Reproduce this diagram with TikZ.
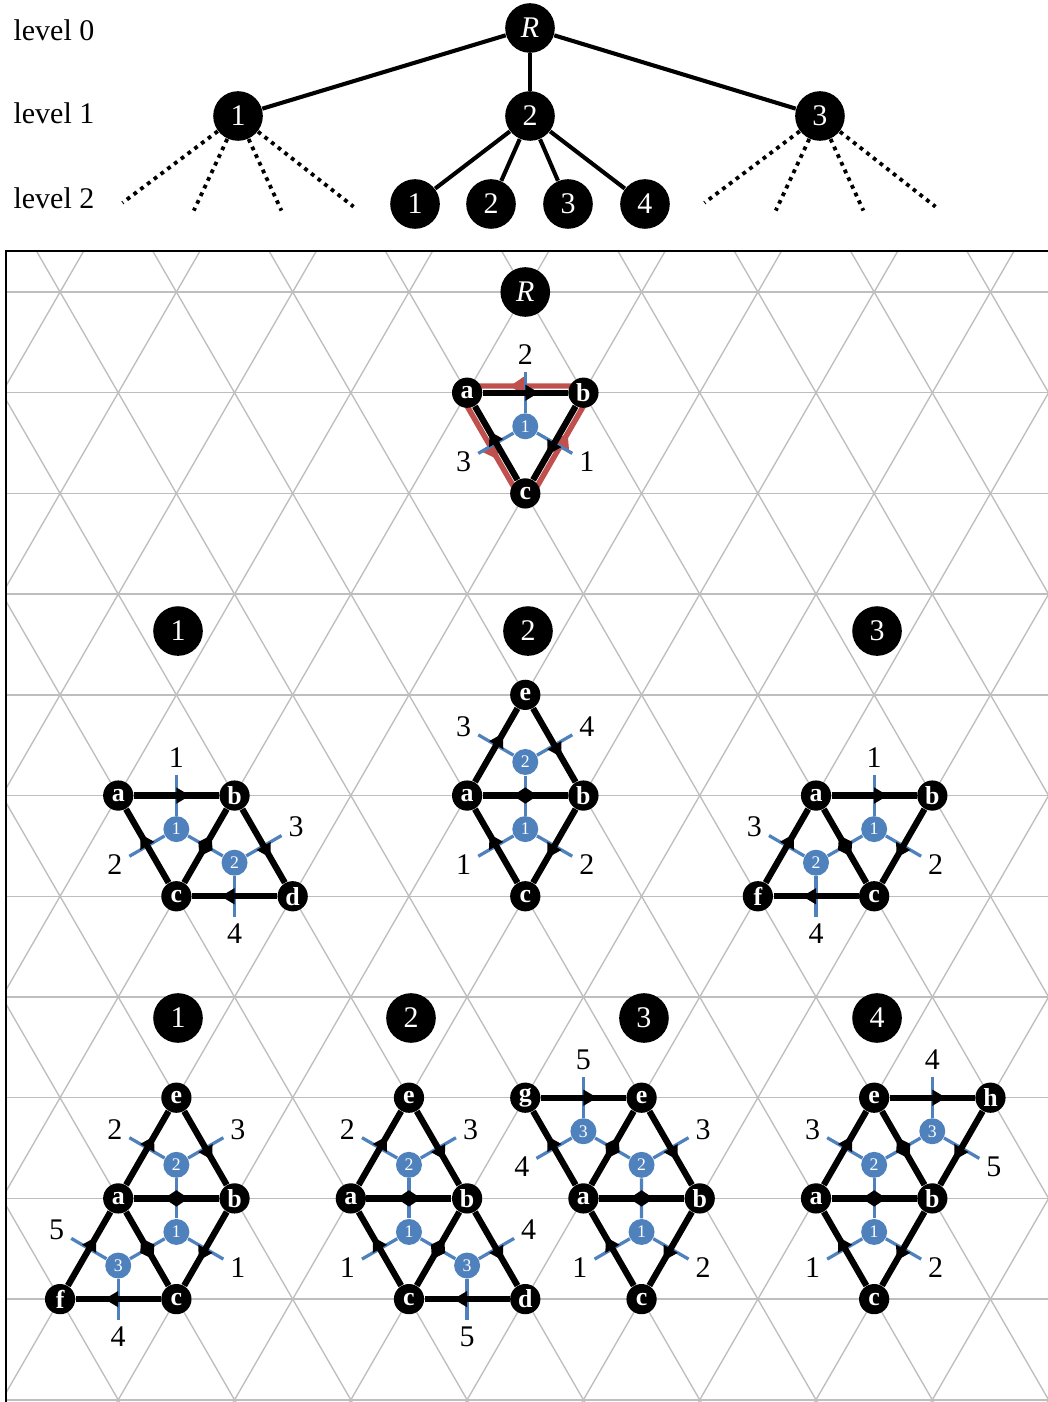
\documentclass[tikz,border=0pt]{standalone}
\usepackage{fontspec}
\setmainfont{Liberation Serif}
\usetikzlibrary{calc,decorations.markings}

\definecolor{dualblue}{RGB}{79,129,189}
\definecolor{cutred}{RGB}{192,80,77}
\definecolor{gridgray}{RGB}{190,190,190}

\tikzset{
  lvl/.style={anchor=west, inner sep=0pt, font=\fontsize{11}{13}\selectfont},
  tnode/.style={circle, fill=black, text=white, minimum size=0.64cm, inner sep=0pt,
                font=\fontsize{11}{13}\selectfont},
  vtx/.style={circle, fill=black, text=white, minimum size=0.39cm, inner sep=0pt,
              font=\fontsize{9.5}{11}\selectfont\bfseries},
  face/.style={circle, fill=dualblue, text=white, minimum size=0.335cm, inner sep=0pt,
               font=\fontsize{6.5}{7}\selectfont},
  elbl/.style={inner sep=2pt, text=black, font=\fontsize{11}{13}\selectfont},
  tedge/.style={line width=1.5pt},
  tdots/.style={line width=1.4pt, dash pattern=on 1.4pt off 1.7pt},
  gridline/.style={gridgray, line width=0.5pt},
  dual/.style={dualblue, line width=1.2pt},
  arr/.style={line width=2.3pt, postaction={decorate},
    decoration={markings, mark=at position 0.5 with {\fill (0,3pt) -- (5pt,0) -- (0,-3pt) -- cycle;}}},
  dia/.style={line width=2.3pt, postaction={decorate},
    decoration={markings, mark=at position 0.5 with {\fill (-4.5pt,0) -- (0,3pt) -- (4.5pt,0) -- (0,-3pt) -- cycle;}}},
  cut/.style={cutred, line width=2pt, line join=bevel, postaction={decorate},
    decoration={markings, mark=between positions 0.1667 and 0.9 step 0.3333 with {\fill (0,3.8pt) -- (5.5pt,0) -- (0,-3.8pt) -- cycle;}}},
  lattice/.style={shift={(0.775cm,-3.766cm)}, x={(1.5cm,0cm)}, y={(0.75cm,-1.299cm)}},
}

% blue half-edge sticking out of a face: face, angle, label
\newcommand\stub[3]{%
  \pgfmathtruncatemacro\stubanc{mod(#2+180,360)}%
  \draw[dual] (#1) -- ++(#2:0.7cm) coordinate (#1-#2) node[elbl, anchor=\stubanc] (#1-#2-l) {#3};
}

\begin{document}
\begin{tikzpicture}
\useasboundingbox (0,0) rectangle (13.517,-18.083);

% the tree
\node[lvl] (lv0) at (0.168,-0.387) {level 0};
\node[lvl] (lv1) at (0.168,-1.457) {level 1};
\node[lvl] (lv2) at (0.168,-2.554) {level 2};

\node[tnode] (R) at (6.836,-0.361) {\textit{R}};
\node[tnode] (n1) at (3.070,-1.496) {1};
\node[tnode] (n2) at (6.836,-1.496) {2};
\node[tnode] (n3) at (10.576,-1.496) {3};
\foreach \k/\x in {1/5.353,2/6.333,3/7.326,4/8.319}
  \node[tnode] (m\k) at (\x,-2.631) {\k};

\foreach \n in {n1,n2,n3} \draw[tedge] (R) -- (\n);
\foreach \k in {1,...,4} \draw[tedge] (n2) -- (m\k);
\foreach \n in {n1,n3}
  \foreach \dx/\dy [count=\k] in {-1.49/-1.12,-0.57/-1.22,0.56/-1.22,1.49/-1.17}
    \draw[tdots] (\n) -- ++(\dx,\dy) coordinate (\n-\k);

% triangular grid in the box
\begin{scope}
  \clip (0.09,-3.25) rectangle (13.6,-18.2);
  \begin{scope}[lattice]
    \foreach \j in {-1,...,12} \draw[gridline] (-12,\j) -- (16,\j);
    \foreach \i in {-12,...,16} \draw[gridline] (\i,-1) -- (\i,12);
    \foreach \k in {-9,...,22} \draw[gridline] (\k+1,-1) -- (\k-12,12);
  \end{scope}
\end{scope}
\draw[line width=0.8pt] (0.077,-3.237) rectangle (14,-18.5);

% headers
\node[tnode] (h1) at (2.296,-8.139) {1};
\node[tnode] (h2) at (6.810,-8.139) {2};
\node[tnode] (h3) at (11.312,-8.139) {3};
\node[tnode] (h21) at (2.296,-13.130) {1};
\node[tnode] (h22) at (5.301,-13.130) {2};
\node[tnode] (h23) at (8.306,-13.130) {3};
\node[tnode] (h24) at (11.312,-13.130) {4};

\begin{scope}[lattice]
\node[tnode] (hR) at (4,0) {\textit{R}};

% root: one face, cut in red
\draw[cut] (2.9333,2.1333) -- (4.1333,0.9333) -- (2.9333,0.9333) -- cycle;
\node[vtx] (r0a) at (3,1) {a};
\node[vtx] (r0b) at (4,1) {b};
\node[vtx] (r0c) at (3,2) {c};
\node[face] (r0F1) at (barycentric cs:r0a=1,r0b=1,r0c=1) {1};
\stub{r0F1}{90}{2} \stub{r0F1}{330}{1} \stub{r0F1}{210}{3}
\draw[arr] (r0a) -- (r0b);
\draw[arr] (r0b) -- (r0c);
\draw[arr] (r0c) -- (r0a);

% level 1, child 1
\node[vtx] (g1a) at (-2,5) {a};
\node[vtx] (g1b) at (-1,5) {b};
\node[vtx] (g1c) at (-2,6) {c};
\node[vtx] (g1d) at (-1,6) {d};
\node[face] (g1F1) at (barycentric cs:g1a=1,g1b=1,g1c=1) {1};
\node[face] (g1F2) at (barycentric cs:g1b=1,g1c=1,g1d=1) {2};
\draw[dual] (g1F1) -- (g1F2);
\stub{g1F1}{90}{1} \stub{g1F1}{210}{2} \stub{g1F2}{30}{3} \stub{g1F2}{270}{4}
\draw[arr] (g1a) -- (g1b);
\draw[arr] (g1b) -- (g1d);
\draw[arr] (g1d) -- (g1c);
\draw[arr] (g1c) -- (g1a);
\draw[dia] (g1b) -- (g1c);

% level 1, child 2
\node[vtx] (g2e) at (2,4) {e};
\node[vtx] (g2a) at (1,5) {a};
\node[vtx] (g2b) at (2,5) {b};
\node[vtx] (g2c) at (1,6) {c};
\node[face] (g2F1) at (barycentric cs:g2a=1,g2b=1,g2c=1) {1};
\node[face] (g2F2) at (barycentric cs:g2e=1,g2a=1,g2b=1) {2};
\draw[dual] (g2F1) -- (g2F2);
\stub{g2F2}{150}{3} \stub{g2F2}{30}{4} \stub{g2F1}{210}{1} \stub{g2F1}{330}{2}
\draw[arr] (g2a) -- (g2e);
\draw[arr] (g2e) -- (g2b);
\draw[arr] (g2b) -- (g2c);
\draw[arr] (g2c) -- (g2a);
\draw[dia] (g2a) -- (g2b);

% level 1, child 3
\node[vtx] (g3a) at (4,5) {a};
\node[vtx] (g3b) at (5,5) {b};
\node[vtx] (g3f) at (3,6) {f};
\node[vtx] (g3c) at (4,6) {c};
\node[face] (g3F1) at (barycentric cs:g3a=1,g3b=1,g3c=1) {1};
\node[face] (g3F2) at (barycentric cs:g3a=1,g3f=1,g3c=1) {2};
\draw[dual] (g3F1) -- (g3F2);
\stub{g3F1}{90}{1} \stub{g3F1}{330}{2} \stub{g3F2}{150}{3} \stub{g3F2}{270}{4}
\draw[arr] (g3a) -- (g3b);
\draw[arr] (g3b) -- (g3c);
\draw[arr] (g3c) -- (g3f);
\draw[arr] (g3f) -- (g3a);
\draw[dia] (g3a) -- (g3c);

% level 2, children of 2
\node[vtx] (g21e) at (-3,8) {e};
\node[vtx] (g21a) at (-4,9) {a};
\node[vtx] (g21b) at (-3,9) {b};
\node[vtx] (g21f) at (-5,10) {f};
\node[vtx] (g21c) at (-4,10) {c};
\node[face] (g21F1) at (barycentric cs:g21a=1,g21b=1,g21c=1) {1};
\node[face] (g21F2) at (barycentric cs:g21e=1,g21a=1,g21b=1) {2};
\node[face] (g21F3) at (barycentric cs:g21a=1,g21f=1,g21c=1) {3};
\draw[dual] (g21F2) -- (g21F1);
\draw[dual] (g21F1) -- (g21F3);
\stub{g21F2}{150}{2} \stub{g21F2}{30}{3} \stub{g21F1}{330}{1}
\stub{g21F3}{150}{5} \stub{g21F3}{270}{4}
\draw[arr] (g21a) -- (g21e);
\draw[arr] (g21e) -- (g21b);
\draw[arr] (g21b) -- (g21c);
\draw[arr] (g21c) -- (g21f);
\draw[arr] (g21f) -- (g21a);
\draw[dia] (g21a) -- (g21b);
\draw[dia] (g21a) -- (g21c);

\node[vtx] (g22e) at (-1,8) {e};
\node[vtx] (g22a) at (-2,9) {a};
\node[vtx] (g22b) at (-1,9) {b};
\node[vtx] (g22c) at (-2,10) {c};
\node[vtx] (g22d) at (-1,10) {d};
\node[face] (g22F1) at (barycentric cs:g22a=1,g22b=1,g22c=1) {1};
\node[face] (g22F2) at (barycentric cs:g22e=1,g22a=1,g22b=1) {2};
\node[face] (g22F3) at (barycentric cs:g22b=1,g22c=1,g22d=1) {3};
\draw[dual] (g22F2) -- (g22F1);
\draw[dual] (g22F1) -- (g22F3);
\stub{g22F2}{150}{2} \stub{g22F2}{30}{3} \stub{g22F1}{210}{1}
\stub{g22F3}{30}{4} \stub{g22F3}{270}{5}
\draw[arr] (g22a) -- (g22e);
\draw[arr] (g22e) -- (g22b);
\draw[arr] (g22b) -- (g22d);
\draw[arr] (g22d) -- (g22c);
\draw[arr] (g22c) -- (g22a);
\draw[dia] (g22a) -- (g22b);
\draw[dia] (g22b) -- (g22c);

\node[vtx] (g23g) at (0,8) {g};
\node[vtx] (g23e) at (1,8) {e};
\node[vtx] (g23a) at (0,9) {a};
\node[vtx] (g23b) at (1,9) {b};
\node[vtx] (g23c) at (0,10) {c};
\node[face] (g23F1) at (barycentric cs:g23a=1,g23b=1,g23c=1) {1};
\node[face] (g23F2) at (barycentric cs:g23e=1,g23a=1,g23b=1) {2};
\node[face] (g23F3) at (barycentric cs:g23g=1,g23e=1,g23a=1) {3};
\draw[dual] (g23F3) -- (g23F2);
\draw[dual] (g23F2) -- (g23F1);
\stub{g23F3}{90}{5} \stub{g23F3}{210}{4} \stub{g23F2}{30}{3}
\stub{g23F1}{210}{1} \stub{g23F1}{330}{2}
\draw[arr] (g23g) -- (g23e);
\draw[arr] (g23e) -- (g23b);
\draw[arr] (g23b) -- (g23c);
\draw[arr] (g23c) -- (g23a);
\draw[arr] (g23a) -- (g23g);
\draw[dia] (g23e) -- (g23a);
\draw[dia] (g23a) -- (g23b);

\node[vtx] (g24e) at (3,8) {e};
\node[vtx] (g24h) at (4,8) {h};
\node[vtx] (g24a) at (2,9) {a};
\node[vtx] (g24b) at (3,9) {b};
\node[vtx] (g24c) at (2,10) {c};
\node[face] (g24F1) at (barycentric cs:g24a=1,g24b=1,g24c=1) {1};
\node[face] (g24F2) at (barycentric cs:g24e=1,g24a=1,g24b=1) {2};
\node[face] (g24F3) at (barycentric cs:g24e=1,g24h=1,g24b=1) {3};
\draw[dual] (g24F3) -- (g24F2);
\draw[dual] (g24F2) -- (g24F1);
\stub{g24F3}{90}{4} \stub{g24F3}{330}{5} \stub{g24F2}{150}{3}
\stub{g24F1}{210}{1} \stub{g24F1}{330}{2}
\draw[arr] (g24e) -- (g24h);
\draw[arr] (g24h) -- (g24b);
\draw[arr] (g24b) -- (g24c);
\draw[arr] (g24c) -- (g24a);
\draw[arr] (g24a) -- (g24e);
\draw[dia] (g24e) -- (g24b);
\draw[dia] (g24a) -- (g24b);
\end{scope}

\end{tikzpicture}
\end{document}
